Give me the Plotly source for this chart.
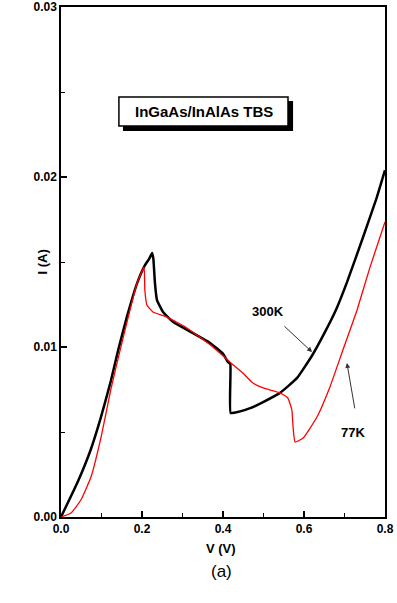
import plotly.graph_objects as go

# 300K (black) curve
v_300 = [0, 0.042, 0.074, 0.099, 0.123, 0.141, 0.163, 0.188, 0.207, 0.218, 0.225, 0.228,
         0.230, 0.232, 0.237, 0.252, 0.277, 0.326, 0.368, 0.400, 0.412, 0.418, 0.419, 0.44,
         0.467, 0.499, 0.541, 0.583, 0.62, 0.65, 0.681, 0.706, 0.746, 0.78, 0.8]
i_300 = [0, 0.0021, 0.0040, 0.0059, 0.0080, 0.0098, 0.0118, 0.01376, 0.0148, 0.0152,
         0.01553, 0.0152, 0.0145, 0.01376, 0.01276, 0.01206, 0.01147, 0.01082, 0.01024, 0.0096,
         0.00912, 0.0090, 0.00612, 0.0062, 0.0064, 0.00676, 0.0073, 0.00818, 0.0095, 0.0108,
         0.0123, 0.0138, 0.01647, 0.01882, 0.0204]

# 77K (red) curve
v_77 = [0, 0.025, 0.049, 0.074, 0.099, 0.123, 0.146, 0.188, 0.205, 0.207, 0.212, 0.227, 0.262,
        0.311, 0.375, 0.417, 0.449, 0.474, 0.499, 0.541, 0.56, 0.57, 0.573, 0.578, 0.598, 0.632,
        0.664, 0.696, 0.731, 0.763, 0.8]
i_77 = [0, 0.00024, 0.001, 0.00235, 0.0047, 0.0075, 0.00982, 0.01376, 0.0147, 0.01335, 0.01247,
        0.01206, 0.01176, 0.01112, 0.0100, 0.00912, 0.00847, 0.00788, 0.00759, 0.0073, 0.0070,
        0.0063, 0.0053, 0.00441, 0.00465, 0.00588, 0.00765, 0.00982, 0.01218, 0.0147, 0.01735]

x_ticks = [0.0, 0.2, 0.4, 0.6, 0.8]
y_ticks = [0.00, 0.01, 0.02, 0.03]

title_text = "InGaAs/InAlAs TBS"
label_300 = "300K"
label_77 = "77K"

FONT = "Liberation Sans, Arial, sans-serif"

fig = go.Figure()
fig.add_trace(go.Scatter(x=v_300, y=i_300, mode="lines",
                         line=dict(color="black", width=2.5, shape="spline", smoothing=0.4),
                         name="300K"))
fig.add_trace(go.Scatter(x=v_77, y=i_77, mode="lines",
                         line=dict(color="#ff0000", width=1.3, shape="spline", smoothing=0.4),
                         name="77K"))

axis_common = dict(showgrid=False, zeroline=False, showline=True, linecolor="black",
                   linewidth=1.5, mirror=True, ticks="inside", ticklen=6, tickwidth=1.5,
                   tickcolor="black", automargin=False,
                   tickfont=dict(family=FONT, size=12, color="black", weight="bold"))

fig.update_xaxes(range=[0, 0.8], tickvals=x_ticks, tickformat=".1f",
                 minor=dict(ticks="inside", ticklen=4, tickwidth=1, dtick=0.1, tickcolor="black"),
                 **axis_common)
fig.update_yaxes(range=[0, 0.03], tickvals=y_ticks, tickformat=".2f",
                 minor=dict(ticks="inside", ticklen=4, tickwidth=1, dtick=0.005, tickcolor="black"),
                 **axis_common)

# title box with shadow
fig.add_shape(type="rect", xref="x", yref="y", x0=0.153, x1=0.573, y0=0.02271, y1=0.02447,
              fillcolor="black", line=dict(width=0), layer="above")
fig.add_shape(type="rect", xref="x", yref="y", x0=0.143, x1=0.5605, y0=0.0230, y1=0.02471,
              fillcolor="white", line=dict(color="black", width=1.5), layer="above")

annotations = [
    dict(x=0.352, y=0.02388, xref="x", yref="y", text=title_text, showarrow=False,
         font=dict(family=FONT, size=15, color="black", weight="bold")),
    dict(x=0.511, y=0.01206, xref="x", yref="y", text=label_300, showarrow=False,
         font=dict(family=FONT, size=13, color="black", weight="bold")),
    dict(x=0.721, y=0.0050, xref="x", yref="y", text=label_77, showarrow=False,
         font=dict(family=FONT, size=13, color="black", weight="bold")),
    dict(x=0.62, y=0.0097, ax=0.548, ay=0.0113, xref="x", yref="y", axref="x", ayref="y",
         text="", showarrow=True, arrowhead=2, arrowsize=1, arrowwidth=1, arrowcolor="#333"),
    dict(x=0.706, y=0.00906, ax=0.726, ay=0.0063, xref="x", yref="y", axref="x", ayref="y",
         text="", showarrow=True, arrowhead=2, arrowsize=1, arrowwidth=1, arrowcolor="#333"),
    dict(x=-0.0895, y=0.5, xref="paper", yref="paper", text="I (A)", showarrow=False,
         textangle=-90, font=dict(family=FONT, size=13, color="black", weight="bold")),
    dict(x=0.494, y=-0.0804, xref="paper", yref="paper", text="V (V)", showarrow=False,
         font=dict(family=FONT, size=13, color="black", weight="bold")),
    dict(x=0.494, y=-0.129, xref="paper", yref="paper", text="(a)", showarrow=False,
         font=dict(family=FONT, size=17, color="black")),
]
fig.update_layout(annotations=annotations, showlegend=False, width=397, height=603,
                  margin=dict(l=61, r=12, t=7, b=86),
                  plot_bgcolor="white", paper_bgcolor="white")

fig.write_html("out.html", config={"displayModeBar": False},
               post_script="document.body.style.margin='0';document.body.style.overflow='hidden';")
